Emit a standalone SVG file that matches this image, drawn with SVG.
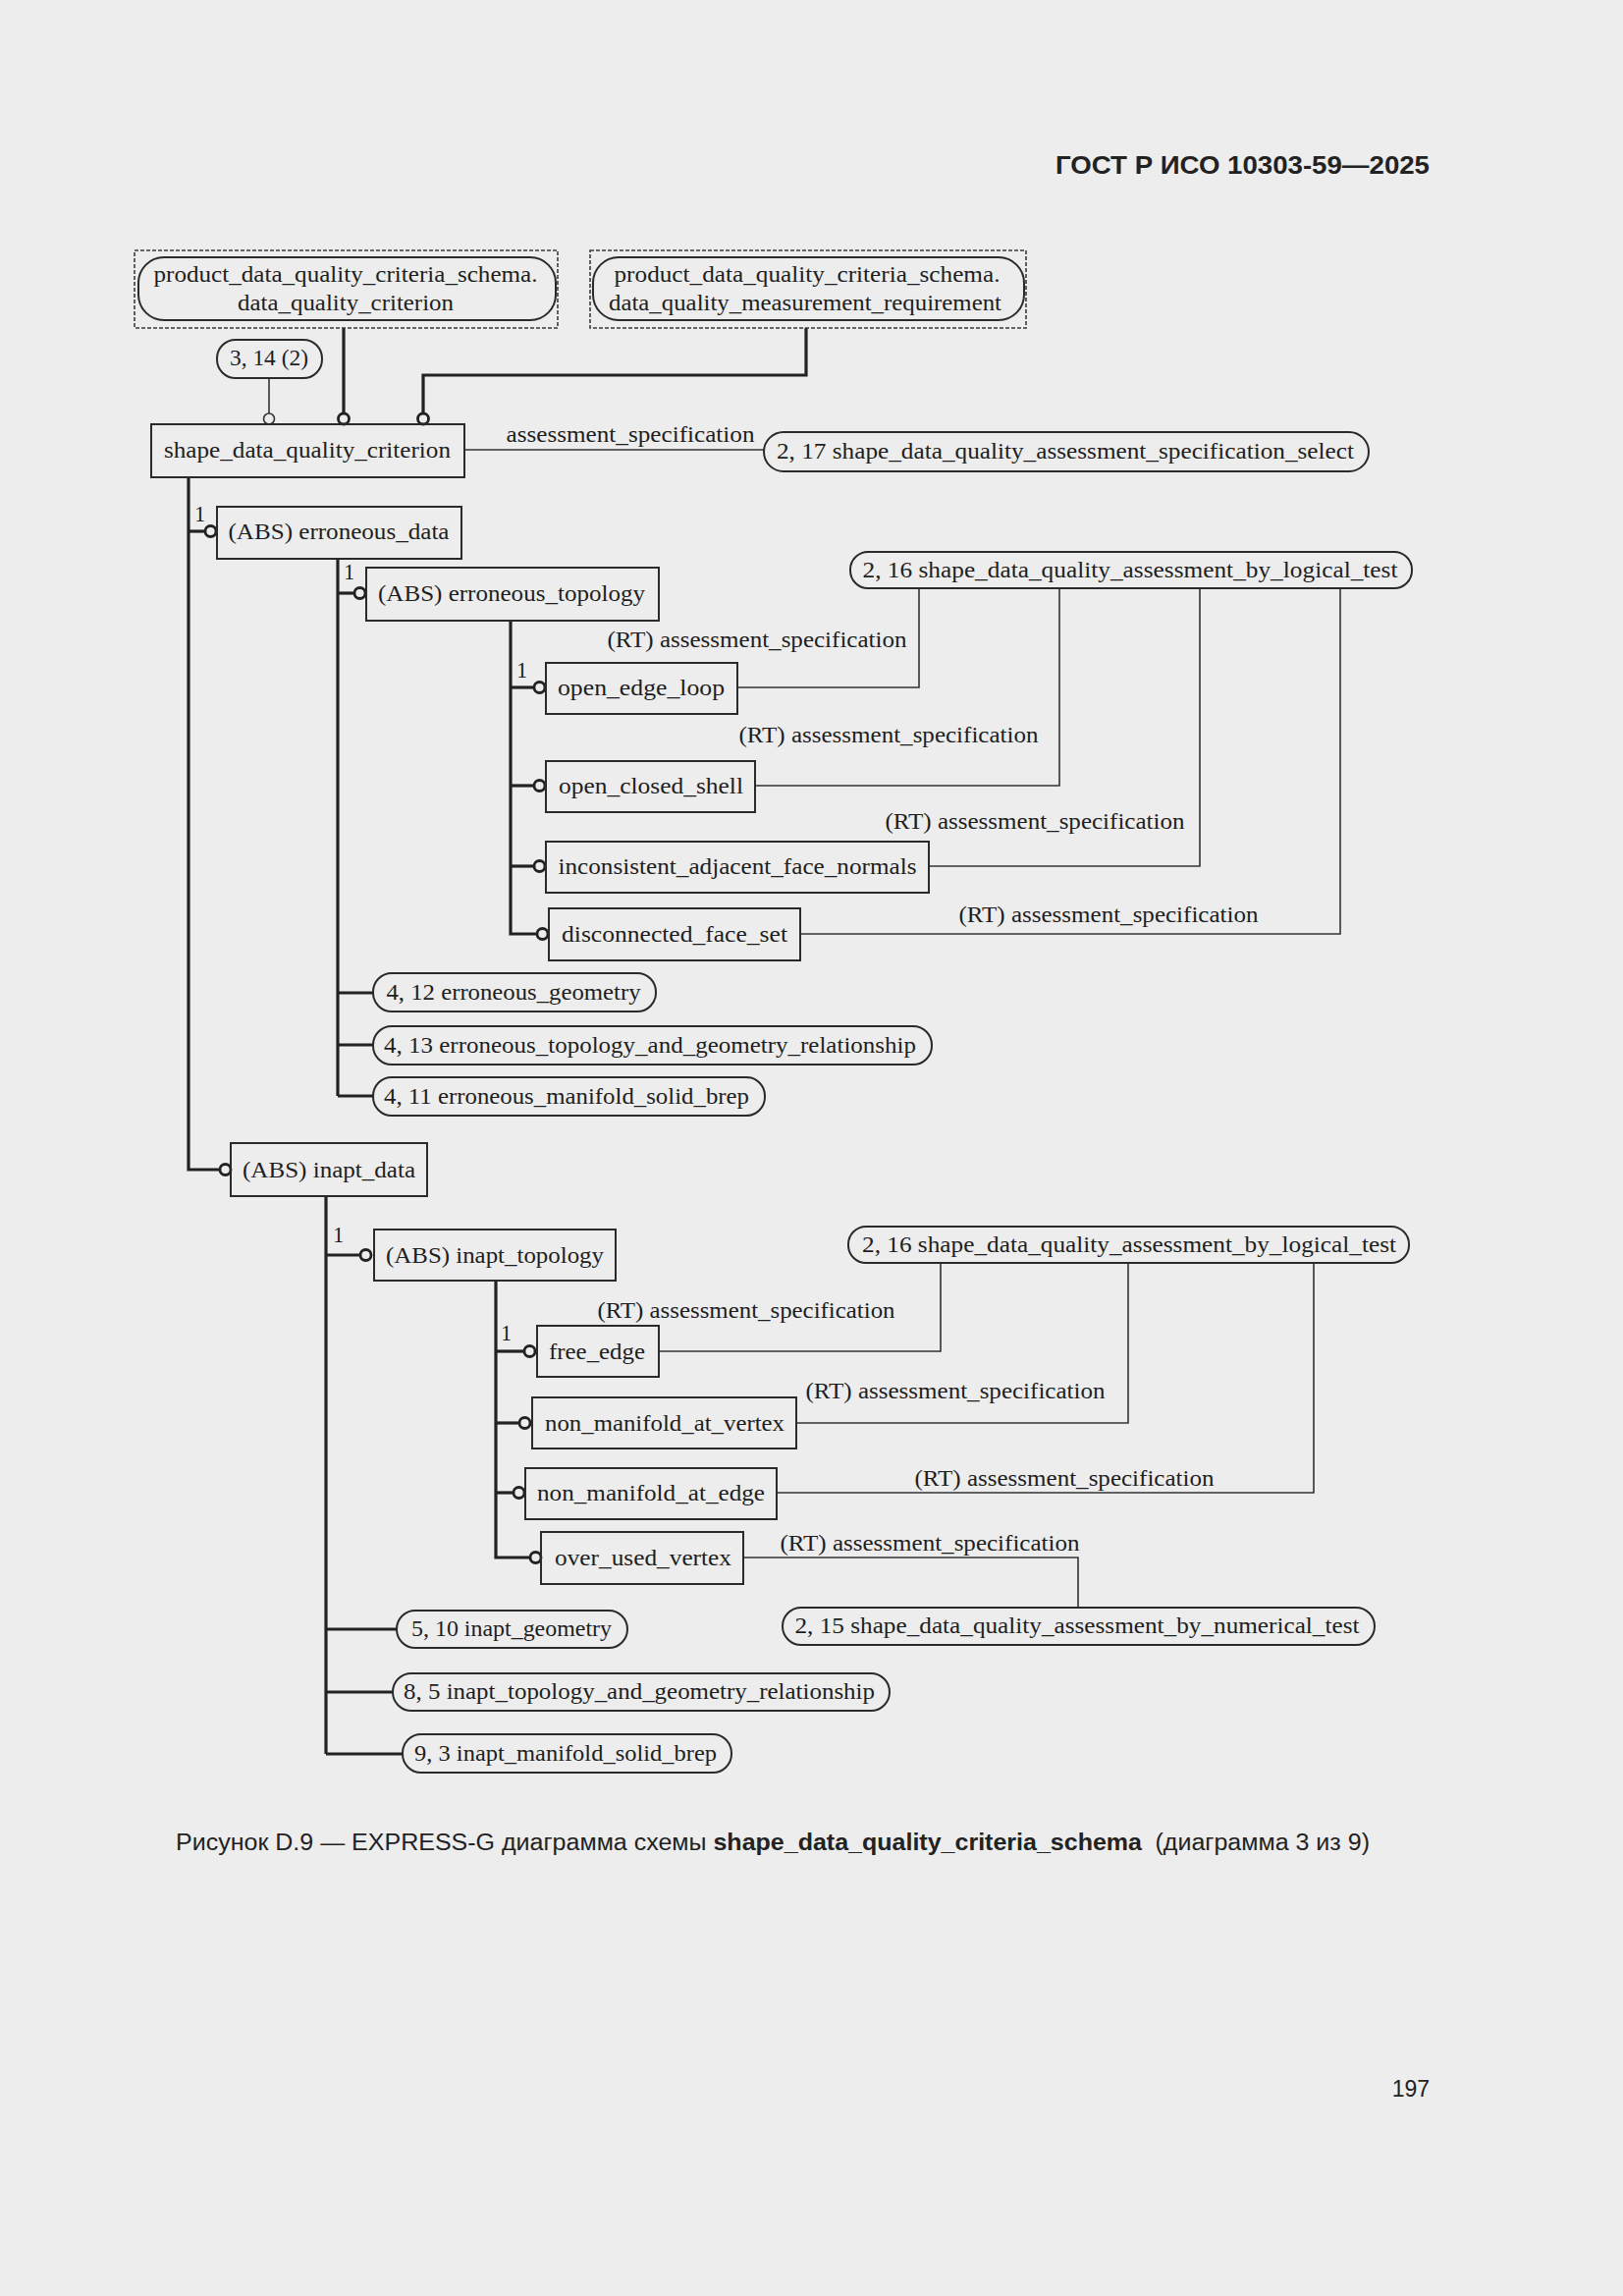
<svg xmlns="http://www.w3.org/2000/svg" width="1653" height="2338" viewBox="0 0 1653 2338">
<style>
.bg{fill:#ededed}
.box{fill:none;stroke:#2a2a2a;stroke-width:2}
.ov{fill:none;stroke:#2a2a2a;stroke-width:2}
.dash{fill:none;stroke:#3a3a3a;stroke-width:1.6;stroke-dasharray:4 2}
.t{font-family:"Liberation Serif",serif;font-size:22.5px;fill:#1e1e1e}
.c{text-anchor:middle}
.thick{fill:none;stroke:#222;stroke-width:3.2}
.thin{fill:none;stroke:#333;stroke-width:1.6}
.circ{fill:#ededed;stroke:#222;stroke-width:2.8}
.circt{fill:#ededed;stroke:#333;stroke-width:1.6}
.hdr{font-family:"Liberation Sans",Arial,sans-serif;font-weight:bold;font-size:25px;fill:#222}
.cap{font-family:"Liberation Sans",Arial,sans-serif;font-size:23px;fill:#222}
</style>
<rect class="bg" x="0" y="0" width="1653" height="2338"/>
<text class="hdr" x="1456" y="177" text-anchor="end" textLength="381" lengthAdjust="spacingAndGlyphs">ГОСТ Р ИСО 10303-59—2025</text>

<g id="connectors">
  <line class="thin" x1="274" y1="385" x2="274" y2="421"/>
  <circle class="circt" cx="274" cy="426.5" r="5.5"/>
  <line class="thick" x1="350" y1="334" x2="350" y2="421"/>
  <circle class="circ" cx="350" cy="426.5" r="5.5"/>
  <polyline class="thick" points="821,334 821,382 431,382 431,421"/>
  <circle class="circ" cx="431" cy="426.5" r="5.5"/>
  <line class="thin" x1="473" y1="458" x2="778" y2="458"/>
  <text class="t c" x="642" y="450" textLength="253" lengthAdjust="spacingAndGlyphs">assessment_specification</text>
  <polyline class="thick" points="192,486 192,1191 224,1191"/>
  <circle class="circ" cx="229.5" cy="1191" r="5.5"/>
  <line class="thick" x1="192" y1="541" x2="209" y2="541"/>
  <circle class="circ" cx="214.5" cy="541" r="5.5"/>
  <text class="t" x="198" y="531">1</text>
  <line class="thick" x1="344" y1="569" x2="344" y2="1116"/>
  <line class="thick" x1="344" y1="604" x2="361" y2="604"/>
  <circle class="circ" cx="366.5" cy="604" r="5.5"/>
  <text class="t" x="350" y="590">1</text>
  <line class="thick" x1="344" y1="1011" x2="380" y2="1011"/>
  <line class="thick" x1="344" y1="1064" x2="380" y2="1064"/>
  <line class="thick" x1="344" y1="1116" x2="380" y2="1116"/>
  <polyline class="thick" points="520,632 520,951 547,951"/>
  <line class="thick" x1="520" y1="700" x2="544" y2="700"/>
  <circle class="circ" cx="549.5" cy="700" r="5.5"/>
  <text class="t" x="526" y="690">1</text>
  <line class="thick" x1="520" y1="800" x2="544" y2="800"/>
  <circle class="circ" cx="549.5" cy="800" r="5.5"/>
  <line class="thick" x1="520" y1="882" x2="544" y2="882"/>
  <circle class="circ" cx="549.5" cy="882" r="5.5"/>
  <circle class="circ" cx="552.5" cy="951" r="5.5"/>
  <polyline class="thin" points="751,700 936,700 936,599"/>
  <text class="t c" x="771" y="659" textLength="305" lengthAdjust="spacingAndGlyphs">(RT) assessment_specification</text>
  <polyline class="thin" points="769,800 1079,800 1079,599"/>
  <text class="t c" x="905" y="756" textLength="305" lengthAdjust="spacingAndGlyphs">(RT) assessment_specification</text>
  <polyline class="thin" points="946,882 1222,882 1222,599"/>
  <text class="t c" x="1054" y="844" textLength="305" lengthAdjust="spacingAndGlyphs">(RT) assessment_specification</text>
  <polyline class="thin" points="815,951 1365,951 1365,599"/>
  <text class="t c" x="1129" y="939" textLength="305" lengthAdjust="spacingAndGlyphs">(RT) assessment_specification</text>
  <line class="thick" x1="332" y1="1218" x2="332" y2="1786"/>
  <line class="thick" x1="332" y1="1278" x2="367" y2="1278"/>
  <circle class="circ" cx="372.5" cy="1278" r="5.5"/>
  <text class="t" x="339" y="1265">1</text>
  <line class="thick" x1="332" y1="1659" x2="404" y2="1659"/>
  <line class="thick" x1="332" y1="1723" x2="400" y2="1723"/>
  <line class="thick" x1="332" y1="1786" x2="410" y2="1786"/>
  <polyline class="thick" points="505,1304 505,1586 540,1586"/>
  <line class="thick" x1="505" y1="1376" x2="534" y2="1376"/>
  <circle class="circ" cx="539.5" cy="1376" r="5.5"/>
  <text class="t" x="510" y="1365">1</text>
  <line class="thick" x1="505" y1="1449" x2="529" y2="1449"/>
  <circle class="circ" cx="534.5" cy="1449" r="5.5"/>
  <line class="thick" x1="505" y1="1520" x2="523" y2="1520"/>
  <circle class="circ" cx="528.5" cy="1520" r="5.5"/>
  <circle class="circ" cx="545.5" cy="1586" r="5.5"/>
  <polyline class="thin" points="671,1376 958,1376 958,1286"/>
  <text class="t c" x="760" y="1342" textLength="303" lengthAdjust="spacingAndGlyphs">(RT) assessment_specification</text>
  <polyline class="thin" points="811,1449 1149,1449 1149,1286"/>
  <text class="t c" x="973" y="1424" textLength="305" lengthAdjust="spacingAndGlyphs">(RT) assessment_specification</text>
  <polyline class="thin" points="791,1520 1338,1520 1338,1286"/>
  <text class="t c" x="1084" y="1513" textLength="305" lengthAdjust="spacingAndGlyphs">(RT) assessment_specification</text>
  <polyline class="thin" points="757,1586 1098,1586 1098,1637"/>
  <text class="t c" x="947" y="1579" textLength="305" lengthAdjust="spacingAndGlyphs">(RT) assessment_specification</text>
</g>

<g id="ext_data_quality_criterion">
  <rect class="dash" x="137" y="255" width="431" height="79"/>
  <rect class="ov" x="141" y="262" width="425" height="64" rx="26"/>
  <text class="t c" x="352" y="287" textLength="391" lengthAdjust="spacingAndGlyphs">product_data_quality_criteria_schema.</text>
  <text class="t c" x="352" y="316" textLength="220" lengthAdjust="spacingAndGlyphs">data_quality_criterion</text>
</g>
<g id="ext_data_quality_measurement_requirement">
  <rect class="dash" x="601" y="255" width="444" height="79"/>
  <rect class="ov" x="604" y="262" width="439" height="64" rx="26"/>
  <text class="t c" x="822" y="287" textLength="393" lengthAdjust="spacingAndGlyphs">product_data_quality_criteria_schema.</text>
  <text class="t c" x="820" y="316" textLength="400" lengthAdjust="spacingAndGlyphs">data_quality_measurement_requirement</text>
</g>
<g id="ref_3_14">
  <rect class="ov" x="221" y="346" width="107" height="39" rx="19"/>
  <text class="t c" x="274" y="372" textLength="80" lengthAdjust="spacingAndGlyphs">3, 14 (2)</text>
</g>
<g id="shape_data_quality_criterion">
  <rect class="box" x="154" y="432" width="319" height="54"/>
  <text class="t c" x="313" y="466" textLength="292" lengthAdjust="spacingAndGlyphs">shape_data_quality_criterion</text>
</g>
<g id="ref_2_17">
  <rect class="ov" x="778" y="440" width="616" height="40" rx="20"/>
  <text class="t c" x="1085" y="467" textLength="588" lengthAdjust="spacingAndGlyphs">2, 17 shape_data_quality_assessment_specification_select</text>
</g>
<g id="erroneous_data">
  <rect class="box" x="221" y="516" width="249" height="53"/>
  <text class="t c" x="345" y="549" textLength="225" lengthAdjust="spacingAndGlyphs">(ABS) erroneous_data</text>
</g>
<g id="erroneous_topology">
  <rect class="box" x="373" y="578" width="298" height="54"/>
  <text class="t c" x="521" y="612" textLength="272" lengthAdjust="spacingAndGlyphs">(ABS) erroneous_topology</text>
</g>
<g id="ref_2_16_a">
  <rect class="ov" x="866" y="562" width="572" height="37" rx="18"/>
  <text class="t c" x="1151" y="588" textLength="545" lengthAdjust="spacingAndGlyphs">2, 16 shape_data_quality_assessment_by_logical_test</text>
</g>
<g id="open_edge_loop">
  <rect class="box" x="556" y="675" width="195" height="52"/>
  <text class="t c" x="653" y="708" textLength="170" lengthAdjust="spacingAndGlyphs">open_edge_loop</text>
</g>
<g id="open_closed_shell">
  <rect class="box" x="556" y="775" width="213" height="52"/>
  <text class="t c" x="663" y="808" textLength="188" lengthAdjust="spacingAndGlyphs">open_closed_shell</text>
</g>
<g id="inconsistent_adjacent_face_normals">
  <rect class="box" x="556" y="857" width="390" height="52"/>
  <text class="t c" x="751" y="890" textLength="365" lengthAdjust="spacingAndGlyphs">inconsistent_adjacent_face_normals</text>
</g>
<g id="disconnected_face_set">
  <rect class="box" x="559" y="925" width="256" height="53"/>
  <text class="t c" x="687" y="959" textLength="230" lengthAdjust="spacingAndGlyphs">disconnected_face_set</text>
</g>
<g id="ref_4_12">
  <rect class="ov" x="380" y="991" width="288" height="39" rx="19"/>
  <text class="t c" x="523" y="1018" textLength="259" lengthAdjust="spacingAndGlyphs">4, 12 erroneous_geometry</text>
</g>
<g id="ref_4_13">
  <rect class="ov" x="380" y="1045" width="569" height="39" rx="19"/>
  <text class="t c" x="662" y="1072" textLength="542" lengthAdjust="spacingAndGlyphs">4, 13 erroneous_topology_and_geometry_relationship</text>
</g>
<g id="ref_4_11">
  <rect class="ov" x="380" y="1097" width="399" height="39" rx="19"/>
  <text class="t c" x="577" y="1124" textLength="372" lengthAdjust="spacingAndGlyphs">4, 11 erroneous_manifold_solid_brep</text>
</g>
<g id="inapt_data">
  <rect class="box" x="235" y="1164" width="200" height="54"/>
  <text class="t c" x="335" y="1199" textLength="176" lengthAdjust="spacingAndGlyphs">(ABS) inapt_data</text>
</g>
<g id="inapt_topology">
  <rect class="box" x="381" y="1252" width="246" height="52"/>
  <text class="t c" x="504" y="1286" textLength="222" lengthAdjust="spacingAndGlyphs">(ABS) inapt_topology</text>
</g>
<g id="ref_2_16_b">
  <rect class="ov" x="864" y="1249" width="571" height="37" rx="18"/>
  <text class="t c" x="1150" y="1275" textLength="544" lengthAdjust="spacingAndGlyphs">2, 16 shape_data_quality_assessment_by_logical_test</text>
</g>
<g id="free_edge">
  <rect class="box" x="547" y="1350" width="124" height="52"/>
  <text class="t c" x="608" y="1384" textLength="98" lengthAdjust="spacingAndGlyphs">free_edge</text>
</g>
<g id="non_manifold_at_vertex">
  <rect class="box" x="542" y="1423" width="269" height="52"/>
  <text class="t c" x="677" y="1457" textLength="244" lengthAdjust="spacingAndGlyphs">non_manifold_at_vertex</text>
</g>
<g id="non_manifold_at_edge">
  <rect class="box" x="535" y="1495" width="256" height="52"/>
  <text class="t c" x="663" y="1528" textLength="232" lengthAdjust="spacingAndGlyphs">non_manifold_at_edge</text>
</g>
<g id="over_used_vertex">
  <rect class="box" x="551" y="1560" width="206" height="53"/>
  <text class="t c" x="655" y="1594" textLength="180" lengthAdjust="spacingAndGlyphs">over_used_vertex</text>
</g>
<g id="ref_2_15">
  <rect class="ov" x="797" y="1637" width="603" height="38" rx="19"/>
  <text class="t c" x="1097" y="1663" textLength="575" lengthAdjust="spacingAndGlyphs">2, 15 shape_data_quality_assessment_by_numerical_test</text>
</g>
<g id="ref_5_10">
  <rect class="ov" x="404" y="1640" width="235" height="38" rx="19"/>
  <text class="t c" x="521" y="1666" textLength="204" lengthAdjust="spacingAndGlyphs">5, 10 inapt_geometry</text>
</g>
<g id="ref_8_5">
  <rect class="ov" x="400" y="1704" width="506" height="38" rx="19"/>
  <text class="t c" x="651" y="1730" textLength="480" lengthAdjust="spacingAndGlyphs">8, 5 inapt_topology_and_geometry_relationship</text>
</g>
<g id="ref_9_3">
  <rect class="ov" x="410" y="1766" width="335" height="39" rx="19"/>
  <text class="t c" x="576" y="1793" textLength="308" lengthAdjust="spacingAndGlyphs">9, 3 inapt_manifold_solid_brep</text>
</g>

<text class="cap" x="179" y="1884" textLength="1216" lengthAdjust="spacingAndGlyphs">Рисунок D.9 — EXPRESS-G диаграмма схемы <tspan font-weight="bold">shape_data_quality_criteria_schema</tspan> <tspan dx="6">(диаграмма 3 из 9)</tspan></text>
<text class="cap" x="1456" y="2135" text-anchor="end">197</text>
</svg>
